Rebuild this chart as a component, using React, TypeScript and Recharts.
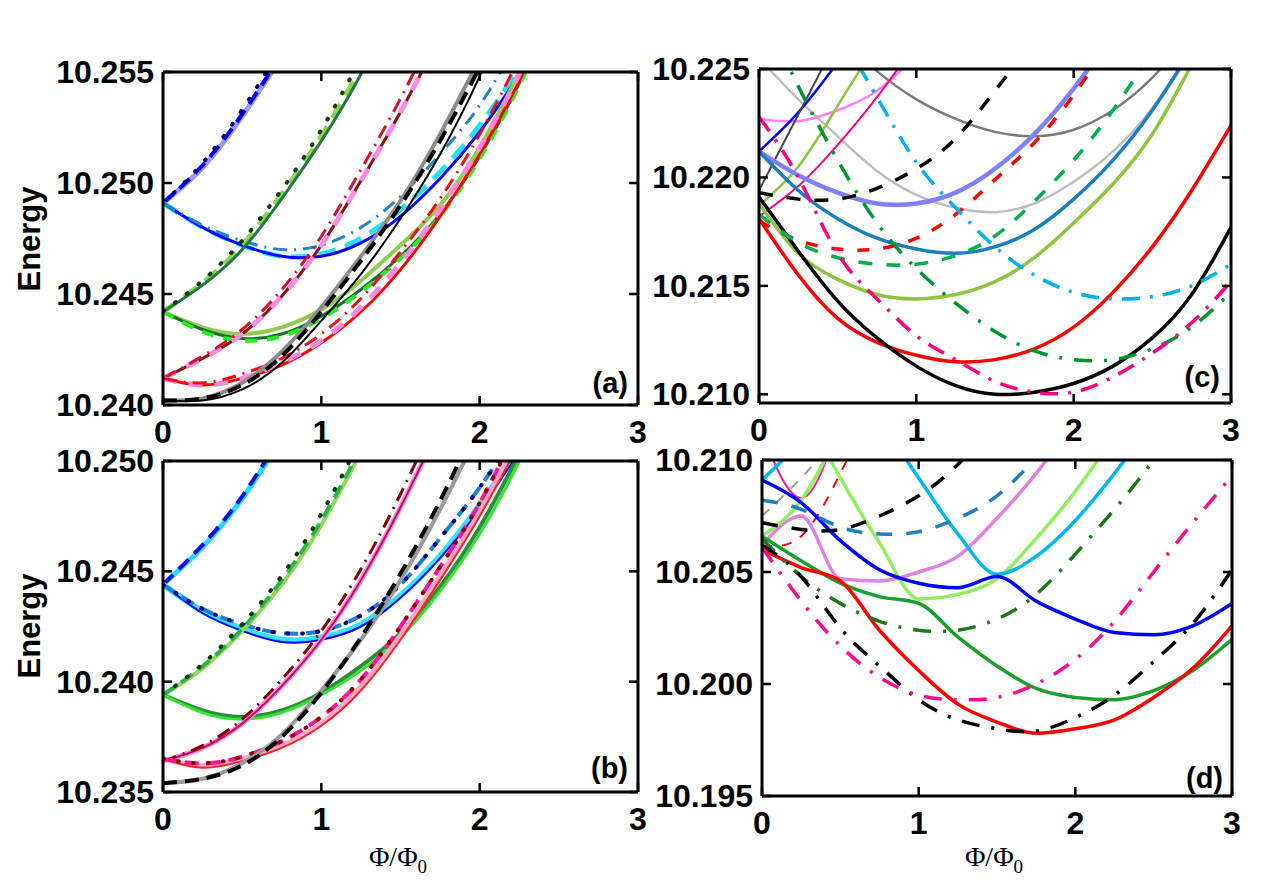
import { LineChart, Line, XAxis, YAxis } from "recharts";

// flux grid shared by every curve (Φ/Φ0)
const PHI = [0, 0.25, 0.5, 0.75, 1, 1.25, 1.5, 1.75, 2, 2.25, 2.5, 2.75, 3];
const X_TICKS = [0, 1, 2, 3];

// ---- panel (a) ----
const A_TICKS = [10.24, 10.245, 10.25, 10.255];
const aSteepTop = [10.2491, 10.2507, 10.253, 10.2557];
const aSteepTopDash = [10.2491, 10.2508, 10.2531, 10.2558];
const aSteepTopDots = [10.2491, 10.2509, 10.2533, 10.2561];
const aBlueBowl = [10.2491, 10.248, 10.2472, 10.2467, 10.2467, 10.2473, 10.2485, 10.2502, 10.2523, 10.2549, 10.258];
const aCyanBowl = [10.2491, 10.248, 10.2472, 10.2467, 10.2468, 10.2475, 10.2488, 10.2505, 10.2526, 10.2552, 10.2582];
const aTealBowl = [10.2491, 10.2481, 10.2474, 10.247, 10.2472, 10.248, 10.2494, 10.2513, 10.2535, 10.2565];
const aGreenSteep = [10.2442, 10.2454, 10.247, 10.2493, 10.2519, 10.2549, 10.2585];
const aGreenSteepDash = [10.2442, 10.2455, 10.2472, 10.2495, 10.2521, 10.2552];
const aGreenSteepDots = [10.2442, 10.2456, 10.2474, 10.2497, 10.2524, 10.2556];
const aLightGreenBowl = [10.2442, 10.2435, 10.2432, 10.2435, 10.2443, 10.2456, 10.2472, 10.249, 10.2516, 10.255, 10.259];
const aGreenBowl = [10.2442, 10.2434, 10.243, 10.2432, 10.244, 10.2452, 10.2467, 10.2486, 10.2512, 10.2545, 10.2585];
const aLimeBowl = [10.2442, 10.2433, 10.2429, 10.2431, 10.2439, 10.2451, 10.2466, 10.2485, 10.2511, 10.2544, 10.2583];
const aMaroonSteep = [10.2412, 10.2421, 10.2432, 10.2449, 10.2472, 10.2501, 10.2532, 10.2566];
const aRedSteep = [10.2412, 10.2422, 10.2434, 10.2452, 10.2476, 10.2506, 10.2538, 10.2574];
const aRedBowl = [10.2412, 10.2409, 10.2412, 10.2418, 10.2428, 10.2442, 10.2461, 10.2485, 10.2513, 10.2546, 10.2584];
const aPinkBowl = [10.2412, 10.2409, 10.2412, 10.2419, 10.2429, 10.2444, 10.2464, 10.2488, 10.2516, 10.2549, 10.2587];
const aDarkRedBowl = [10.2412, 10.241, 10.2414, 10.2421, 10.2432, 10.2448, 10.2469, 10.2493, 10.2522, 10.2556];
const aGrayLow = [10.2402, 10.2403, 10.241, 10.2424, 10.2444, 10.2467, 10.2492, 10.2522, 10.2556];
const aBlackLowDash = [10.2402, 10.2403, 10.2409, 10.2422, 10.2442, 10.2465, 10.249, 10.2519, 10.2552];
const aBlackLow = [10.2402, 10.2402, 10.2407, 10.2419, 10.2438, 10.2459, 10.2484, 10.2513, 10.2548, 10.259];

// ---- panel (b) ----
const B_TICKS = [10.235, 10.24, 10.245, 10.25];
const bSteepTop = [10.2444, 10.2461, 10.2483, 10.251];
const bSteepTopDash = [10.2444, 10.2462, 10.2484, 10.2512];
const bCyanBowl = [10.2444, 10.2432, 10.2424, 10.2419, 10.242, 10.2426, 10.2439, 10.2457, 10.248, 10.2506];
const bBlueBowl = [10.2444, 10.2431, 10.2423, 10.2418, 10.2419, 10.2425, 10.2438, 10.2456, 10.2478, 10.2504];
const bTealBowl = [10.2444, 10.2433, 10.2426, 10.2422, 10.2423, 10.243, 10.2444, 10.2465, 10.2488, 10.2515];
const bGreenSteep = [10.2394, 10.2406, 10.2423, 10.2444, 10.2471, 10.2504];
const bGreenSteepDash = [10.2394, 10.2407, 10.2424, 10.2446, 10.2473, 10.2506];
const bGreenSteepDots = [10.2394, 10.2408, 10.2426, 10.2448, 10.2476, 10.251];
const bGreenBowl = [10.2394, 10.2387, 10.2384, 10.2387, 10.2395, 10.2407, 10.2422, 10.2443, 10.247, 10.2503];
const bLimeBowl = [10.2394, 10.2386, 10.2383, 10.2386, 10.2394, 10.2405, 10.242, 10.2441, 10.2467, 10.25, 10.254];
const bVioletSteep = [10.2364, 10.237, 10.2381, 10.2398, 10.2419, 10.2446, 10.2479, 10.2516];
const bMaroonSteep = [10.2364, 10.2371, 10.2383, 10.2401, 10.2423, 10.2451, 10.2485, 10.2523];
const bPinkBowl = [10.2365, 10.2362, 10.2365, 10.2371, 10.2381, 10.2398, 10.2421, 10.2448, 10.2477, 10.251];
const bRedBowl = [10.2365, 10.2361, 10.2364, 10.237, 10.238, 10.2396, 10.2419, 10.2446, 10.2475, 10.2508];
const bDeepPinkBowl = [10.2365, 10.2363, 10.2366, 10.2373, 10.2384, 10.2401, 10.2425, 10.2452, 10.2481, 10.2516];
const bGrayLow = [10.2354, 10.2356, 10.2363, 10.2376, 10.2396, 10.2419, 10.2446, 10.2478, 10.2514];
const bBlackLowDash = [10.2354, 10.2356, 10.2362, 10.2375, 10.2395, 10.242, 10.2449, 10.2482, 10.2519];

// ---- panel (c) ----
const C_TICKS = [10.21, 10.215, 10.22, 10.225];
const cBlack = [10.2191, 10.2166, 10.2143, 10.2126, 10.2113, 10.2104, 10.21, 10.2101, 10.2105, 10.2113, 10.2126, 10.2146, 10.2177];
const cRed = [10.2181, 10.2155, 10.2135, 10.2124, 10.2118, 10.2115, 10.2116, 10.2121, 10.2131, 10.2147, 10.2168, 10.2194, 10.2224];
const cYellowGreen = [10.2188, 10.2165, 10.2153, 10.2146, 10.2144, 10.2146, 10.2152, 10.2163, 10.2179, 10.2197, 10.222, 10.2252];
const cSteelBlue = [10.2212, 10.2194, 10.2181, 10.2172, 10.2167, 10.2165, 10.2168, 10.2176, 10.219, 10.2208, 10.2231, 10.2259];
const cLavender = [10.2212, 10.2201, 10.2193, 10.2188, 10.2188, 10.2193, 10.2204, 10.222, 10.2241, 10.2266];
const cSilver = [10.2255, 10.2236, 10.2219, 10.2203, 10.2192, 10.2186, 10.2184, 10.2188, 10.2198, 10.2212, 10.2232, 10.226];
const cGray = [null, null, 10.2266, 10.2249, 10.2236, 10.2227, 10.2221, 10.2219, 10.2222, 10.2231, 10.2246, 10.2267];
const cBlackDash = [10.2193, 10.219, 10.219, 10.2195, 10.2204, 10.2218, 10.224, 10.2263];
const cRedDash = [10.218, 10.2171, 10.2167, 10.2167, 10.2172, 10.2183, 10.2199, 10.2216, 10.2238, 10.2265];
const cGreenDash = [10.2183, 10.217, 10.2163, 10.216, 10.216, 10.2164, 10.2173, 10.2189, 10.2208, 10.2231, 10.2258];
const cSkyDashDot = [null, null, 10.2268, 10.2237, 10.2207, 10.2186, 10.2168, 10.2155, 10.2147, 10.2144, 10.2145, 10.215, 10.216];
const cGreenDashDot = [10.228, 10.2242, 10.2208, 10.2179, 10.2158, 10.2142, 10.2129, 10.212, 10.2116, 10.2116, 10.2121, 10.2131, 10.2147];
const cPinkDashDot = [10.2228, 10.22, 10.2165, 10.2144, 10.2127, 10.2116, 10.2106, 10.2101, 10.2101, 10.2108, 10.2119, 10.2133, 10.2152];
const cBlueThin = [10.2212, 10.223, 10.2253];
const cDarkGrayThin = [10.2194, 10.2229, 10.2264];
const cYellowGreenThin = [10.2187, 10.2205, 10.2233, 10.2262];
const cPinkThin = [10.2182, 10.2196, 10.2215, 10.2237, 10.2262];
const cVioletThin = [10.2227, 10.2226, 10.2231, 10.224, 10.2256];

// ---- panel (d) ----
const D_TICKS = [10.195, 10.2, 10.205, 10.21];
const dRed = [10.206, 10.2052, 10.2046, 10.2024, 10.2006, 10.1991, 10.1983, 10.1978, 10.198, 10.1984, 10.1994, 10.2007, 10.2026];
const dGreen = [10.2066, 10.2055, 10.2045, 10.2039, 10.2036, 10.2021, 10.2008, 10.1998, 10.1994, 10.1993, 10.1997, 10.2006, 10.202];
const dLightGreen = [null, 10.2125, 10.2092, 10.2063, 10.2038, 10.204, 10.2047, 10.2065, 10.2086, 10.2111];
const dLightGreenRise = [10.2066, 10.2082, 10.2114];
const dBlue = [10.2091, 10.2081, 10.2064, 10.2051, 10.2045, 10.2043, 10.2048, 10.2037, 10.2029, 10.2023, 10.2022, 10.2026, 10.2036];
const dSkyRise = [10.2091, 10.2108];
const dSky = [null, null, null, 10.2118, 10.2092, 10.2067, 10.2049, 10.2057, 10.2073, 10.2094, 10.2118];
const dOrchid = [10.2062, 10.2075, 10.2047, 10.2046, 10.205, 10.2057, 10.2074, 10.2094, 10.2118];
const dPinkThin = [10.2112, 10.2083, 10.2118];
const dSteelDash = [10.2082, 10.2078, 10.207, 10.2067, 10.2068, 10.2074, 10.2084, 10.2101];
const dBlackDash = [10.2072, 10.2069, 10.2069, 10.2075, 10.2084, 10.2098, 10.2118];
const dGreenDashDot = [10.2065, 10.2048, 10.2036, 10.2028, 10.2024, 10.2024, 10.2029, 10.204, 10.2058, 10.2078, 10.21, 10.2125];
const dBlackDashDot = [10.2062, 10.2048, 10.2025, 10.2008, 10.1993, 10.1984, 10.198, 10.1979, 10.1985, 10.1995, 10.201, 10.2027, 10.2051];
const dPinkDashDot = [10.2061, 10.2037, 10.2017, 10.2003, 10.1995, 10.1993, 10.1994, 10.2, 10.2011, 10.2028, 10.205, 10.2072, 10.2093];
const dRedDashThin = [10.2062, 10.2066, 10.2094, 10.213];
const dGrayDashThin = [10.2075, 10.2092, 10.2112];

type Curve = {
  values: (number | null)[];
  color: string;
  width: number;
  dash?: string;
  round?: boolean;
  kinked?: boolean; // anticrossing branches: keep the corners
};

const DASH = "14 8";
const DASH_DOT = "14 7 2 7";
const DOTS = "1 14";

const curvesA: Curve[] = [
  { values: aSteepTop, color: "#9a9aff", width: 5 },
  { values: aSteepTopDash, color: "#0000ff", width: 4, dash: DASH },
  { values: aSteepTopDots, color: "#00007a", width: 4, dash: DOTS, round: true },
  { values: aCyanBowl, color: "#22e0ff", width: 5, dash: "18 10" },
  { values: aBlueBowl, color: "#0000ff", width: 3 },
  { values: aTealBowl, color: "#1f86c4", width: 3, dash: DASH_DOT },
  { values: aLightGreenBowl, color: "#8ccd50", width: 4 },
  { values: aGreenBowl, color: "#1d6b2a", width: 3 },
  { values: aLimeBowl, color: "#22ee22", width: 4, dash: "12 10" },
  { values: aGreenSteepDash, color: "#8fd155", width: 5, dash: "16 10" },
  { values: aGreenSteep, color: "#1f7a3f", width: 3 },
  { values: aGreenSteepDots, color: "#123d12", width: 4, dash: DOTS, round: true },
  { values: aMaroonSteep, color: "#8a1111", width: 3 },
  { values: aMaroonSteep, color: "#ff8ce0", width: 5, dash: "14 12" },
  { values: aRedSteep, color: "#d8102c", width: 3, dash: DASH_DOT },
  { values: aRedBowl, color: "#ff0000", width: 3 },
  { values: aPinkBowl, color: "#ff88dd", width: 5, dash: "14 12" },
  { values: aDarkRedBowl, color: "#ee1111", width: 3, dash: DASH_DOT },
  { values: aGrayLow, color: "#8c8c8c", width: 4 },
  { values: aBlackLow, color: "#000000", width: 2 },
  { values: aBlackLowDash, color: "#000000", width: 4, dash: DASH },
];

const curvesB: Curve[] = [
  { values: bSteepTop, color: "#22ddff", width: 5 },
  { values: bSteepTopDash, color: "#1010e0", width: 4, dash: DASH },
  { values: bCyanBowl, color: "#33e3ff", width: 6 },
  { values: bBlueBowl, color: "#0000ff", width: 2 },
  { values: bTealBowl, color: "#1e7fd6", width: 4, dash: DASH },
  { values: bTealBowl, color: "#00007a", width: 4, dash: DOTS, round: true },
  { values: bGreenSteep, color: "#8fd65a", width: 4 },
  { values: bGreenSteepDash, color: "#2db34a", width: 4, dash: DASH },
  { values: bGreenSteepDots, color: "#0b3d0b", width: 4, dash: DOTS, round: true },
  { values: bGreenBowl, color: "#2e8b3a", width: 4 },
  { values: bLimeBowl, color: "#2ee62e", width: 3 },
  { values: bVioletSteep, color: "#ee88ee", width: 5 },
  { values: bVioletSteep, color: "#c01050", width: 2 },
  { values: bMaroonSteep, color: "#8b0000", width: 3, dash: DASH_DOT },
  { values: bPinkBowl, color: "#ffa5c8", width: 5 },
  { values: bRedBowl, color: "#ff2020", width: 2 },
  { values: bDeepPinkBowl, color: "#ff1493", width: 4, dash: DASH },
  { values: bDeepPinkBowl, color: "#8b0000", width: 4, dash: DOTS, round: true },
  { values: bGrayLow, color: "#9a9a9a", width: 4 },
  { values: bBlackLowDash, color: "#000000", width: 4, dash: DASH },
];

const curvesC: Curve[] = [
  { values: cSilver, color: "#bdbdbd", width: 2.5 },
  { values: cGray, color: "#7a7a7a", width: 2.5 },
  { values: cVioletThin, color: "#ff80ff", width: 2.5 },
  { values: cBlueThin, color: "#0000ff", width: 2.5 },
  { values: cDarkGrayThin, color: "#444444", width: 2 },
  { values: cYellowGreenThin, color: "#8cc63f", width: 2.5 },
  { values: cPinkThin, color: "#ff0080", width: 2 },
  { values: cLavender, color: "#8080ff", width: 4.5 },
  { values: cSteelBlue, color: "#1a7fc0", width: 3.5 },
  { values: cYellowGreen, color: "#8cc63f", width: 3.5 },
  { values: cRed, color: "#ff0000", width: 3.5 },
  { values: cBlack, color: "#000000", width: 3.5 },
  { values: cBlackDash, color: "#000000", width: 3.5, dash: "14 14" },
  { values: cRedDash, color: "#ff0000", width: 3.5, dash: "12 14" },
  { values: cGreenDash, color: "#00b050", width: 3.5, dash: "14 14" },
  { values: cSkyDashDot, color: "#00b0f0", width: 3.5, dash: "18 10 3 10" },
  { values: cGreenDashDot, color: "#00952e", width: 3.5, dash: "18 12 3 12" },
  { values: cPinkDashDot, color: "#ff0080", width: 3.5, dash: "18 10 3 10" },
];

const curvesD: Curve[] = [
  { values: dGrayDashThin, color: "#999999", width: 2, dash: "10 10" },
  { values: dRedDashThin, color: "#ff0000", width: 2, dash: "10 10" },
  { values: dPinkThin, color: "#ff1493", width: 2, kinked: true },
  { values: dOrchid, color: "#e080e0", width: 3.5, kinked: true },
  { values: dLightGreenRise, color: "#90ee60", width: 3.5 },
  { values: dLightGreen, color: "#90ee60", width: 3.5, kinked: true },
  { values: dSkyRise, color: "#00b8f0", width: 3.5 },
  { values: dSky, color: "#00b8f0", width: 3.5, kinked: true },
  { values: dGreen, color: "#1a9f2a", width: 3.5, kinked: true },
  { values: dBlue, color: "#0000ff", width: 3.5, kinked: true },
  { values: dRed, color: "#ff0000", width: 3.5, kinked: true },
  { values: dSteelDash, color: "#1f7fc0", width: 3.5, dash: "16 14" },
  { values: dBlackDash, color: "#000000", width: 3.5, dash: "16 14" },
  { values: dGreenDashDot, color: "#1a7a1a", width: 3.5, dash: "18 12 3 12" },
  { values: dBlackDashDot, color: "#000000", width: 3.5, dash: "18 12 3 12" },
  { values: dPinkDashDot, color: "#ff0a8c", width: 3.5, dash: "18 12 3 12" },
];

const toPoints = (values: (number | null)[]) =>
  values.map((e, i) => ({ phi: PHI[i], e })).filter((p) => p.e !== null);

const FRAME = { stroke: "#000", strokeWidth: 3 };
const TICK_LEN = 9;
const tickFont = {
  fontFamily: "'Liberation Sans', Arial, sans-serif",
  fontWeight: 700,
  fontSize: 32,
  fill: "#000",
};

const LeftTick = ({ x, y, payload }: any) => (
  <g>
    <line x1={x} y1={y} x2={x + TICK_LEN} y2={y} stroke="#000" strokeWidth={2.5} />
    <text x={x - 9} y={y + 11} textAnchor="end" {...tickFont}>
      {Number(payload.value).toFixed(3)}
    </text>
  </g>
);

const RightTick = ({ x, y }: any) => (
  <line x1={x} y1={y} x2={x - TICK_LEN} y2={y} stroke="#000" strokeWidth={2.5} />
);

const BottomTick = ({ x, y, payload }: any) => (
  <g>
    <line x1={x} y1={y} x2={x} y2={y - TICK_LEN} stroke="#000" strokeWidth={2.5} />
    <text x={x} y={y + 38} textAnchor="middle" {...tickFont}>
      {payload.value}
    </text>
  </g>
);

const TopTick = ({ x, y }: any) => (
  <line x1={x} y1={y} x2={x} y2={y + TICK_LEN} stroke="#000" strokeWidth={2.5} />
);

const AXIS_L = 150;
const AXIS_R = 20;
const AXIS_T = 20;
const AXIS_B = 50;

function Panel({ left, top, right, bottom, yDomain, yTicks, curves }: any) {
  const plotW = right - left;
  const plotH = bottom - top;
  return (
    <div style={{ position: "absolute", left: left - AXIS_L, top: top - AXIS_T }}>
      <LineChart
        width={plotW + AXIS_L + AXIS_R}
        height={plotH + AXIS_T + AXIS_B}
        margin={{ top: 0, right: 0, bottom: 0, left: 0 }}
      >
        <XAxis
          xAxisId="b"
          dataKey="phi"
          type="number"
          domain={[0, 3]}
          ticks={X_TICKS}
          interval={0}
          allowDataOverflow
          height={AXIS_B}
          tickSize={0}
          tickMargin={0}
          tickLine={false}
          axisLine={FRAME}
          tick={BottomTick}
        />
        <XAxis
          xAxisId="t"
          orientation="top"
          dataKey="phi"
          type="number"
          domain={[0, 3]}
          ticks={X_TICKS}
          interval={0}
          allowDataOverflow
          height={AXIS_T}
          tickSize={0}
          tickMargin={0}
          tickLine={false}
          axisLine={FRAME}
          tick={TopTick}
        />
        <YAxis
          yAxisId="l"
          type="number"
          domain={yDomain}
          ticks={yTicks}
          interval={0}
          allowDataOverflow
          width={AXIS_L}
          tickSize={0}
          tickMargin={0}
          tickLine={false}
          axisLine={FRAME}
          tick={LeftTick}
        />
        <YAxis
          yAxisId="r"
          orientation="right"
          type="number"
          domain={yDomain}
          ticks={yTicks}
          interval={0}
          allowDataOverflow
          width={AXIS_R}
          tickSize={0}
          tickMargin={0}
          tickLine={false}
          axisLine={FRAME}
          tick={RightTick}
        />
        {curves.map((c: Curve, i: number) => (
          <Line
            key={i}
            xAxisId="b"
            yAxisId="l"
            data={toPoints(c.values)}
            dataKey="e"
            type={c.kinked ? "monotone" : "natural"}
            stroke={c.color}
            strokeWidth={c.width}
            strokeDasharray={c.dash}
            strokeLinecap={c.round ? "round" : "butt"}
            dot={false}
            activeDot={false}
            isAnimationActive={false}
          />
        ))}
      </LineChart>
    </div>
  );
}

const labelFont = {
  fontFamily: "'Liberation Sans', Arial, sans-serif",
  fontWeight: 700,
  fontSize: 31,
  fill: "#000",
};
const fluxFont = {
  fontFamily: "'Liberation Serif', 'Times New Roman', serif",
  fontSize: 28,
  fill: "#000",
};

function FluxLabel({ x, y }: { x: number; y: number }) {
  return (
    <text x={x} y={y} textAnchor="middle" {...fluxFont}>
      Φ/Φ
      <tspan fontSize={19} dy={7}>
        0
      </tspan>
    </text>
  );
}

export default function App() {
  return (
    <div
      style={{
        position: "absolute",
        left: 0,
        top: 0,
        width: 1280,
        height: 894,
        background: "#fff",
        overflow: "hidden",
      }}
    >
      <Panel left={163} top={72} right={638} bottom={405} yDomain={[10.24, 10.255]} yTicks={A_TICKS} curves={curvesA} />
      <Panel left={163} top={461} right={638} bottom={792} yDomain={[10.235, 10.25]} yTicks={B_TICKS} curves={curvesB} />
      <Panel left={759} top={69} right={1231} bottom={403} yDomain={[10.2096, 10.225]} yTicks={C_TICKS} curves={curvesC} />
      <Panel left={762} top={460} right={1232} bottom={796} yDomain={[10.195, 10.21]} yTicks={D_TICKS} curves={curvesD} />
      <svg
        width={1280}
        height={894}
        style={{ position: "absolute", left: 0, top: 0, pointerEvents: "none" }}
      >
        <text transform="translate(40 239) rotate(-90)" textAnchor="middle" {...labelFont}>
          Energy
        </text>
        <text transform="translate(40 626) rotate(-90)" textAnchor="middle" {...labelFont}>
          Energy
        </text>
        <FluxLabel x={398} y={866} />
        <FluxLabel x={994} y={866} />
        <text x={628} y={393} textAnchor="end" {...labelFont} fontSize={29}>(a)</text>
        <text x={628} y={778} textAnchor="end" {...labelFont} fontSize={29}>(b)</text>
        <text x={1220} y={387} textAnchor="end" {...labelFont} fontSize={29}>(c)</text>
        <text x={1223} y={788} textAnchor="end" {...labelFont} fontSize={29}>(d)</text>
      </svg>
    </div>
  );
}
